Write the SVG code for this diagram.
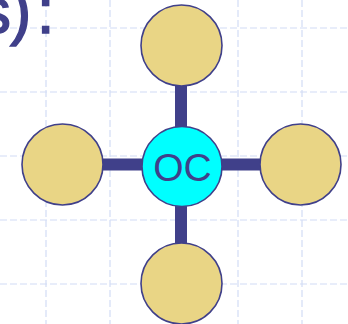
<svg xmlns="http://www.w3.org/2000/svg" width="348" height="324" viewBox="0 0 348 324">
<style>
.grid{stroke:#d2dcf6;stroke-width:1.2;stroke-dasharray:7 3;fill:none}
.bar{stroke:#40408a;stroke-width:12;fill:none}
.leaf{fill:#e9d585;stroke:#40408a;stroke-width:1.6}
.hub{fill:#00ffff;stroke:#40408a;stroke-width:1.6}
.lbl{font-family:"Liberation Sans",Arial,sans-serif;fill:#40408a}
.title{stroke:#40408a;stroke-width:1.4}
</style>
<rect width="348" height="324" fill="#ffffff"/>
<g id="grid">
<line class="grid" x1="0" y1="28" x2="348" y2="28"/>
<line class="grid" x1="0" y1="92" x2="348" y2="92"/>
<line class="grid" x1="0" y1="156" x2="348" y2="156"/>
<line class="grid" x1="0" y1="220" x2="348" y2="220"/>
<line class="grid" x1="0" y1="284" x2="348" y2="284"/>
<line class="grid" x1="46" y1="0" x2="46" y2="324"/>
<line class="grid" x1="110" y1="0" x2="110" y2="324"/>
<line class="grid" x1="238" y1="0" x2="238" y2="324"/>
<line class="grid" x1="302" y1="0" x2="302" y2="324"/>
</g>
<text class="lbl title" font-size="64"><tspan x="-21" y="32.5">s</tspan><tspan x="10" y="32.5">)</tspan><tspan x="36.8" y="32.5">:</tspan></text>
<g id="connectors">
<line class="bar" x1="181" y1="45" x2="181" y2="284"/>
<line class="bar" x1="62" y1="164.5" x2="300" y2="164.5"/>
</g>
<g id="node-top"><circle class="leaf" cx="181.5" cy="45.5" r="40.5"/></g>
<g id="node-left"><circle class="leaf" cx="62.5" cy="164.5" r="40.5"/></g>
<g id="node-right"><circle class="leaf" cx="300.5" cy="164.5" r="40.5"/></g>
<g id="node-bottom"><circle class="leaf" cx="181.5" cy="283.5" r="40.5"/></g>
<g id="node-oc"><circle class="hub" cx="182" cy="166.5" r="40"/>
<text class="lbl" x="182.5" y="180.5" font-size="39" text-anchor="middle">OC</text></g>
</svg>
